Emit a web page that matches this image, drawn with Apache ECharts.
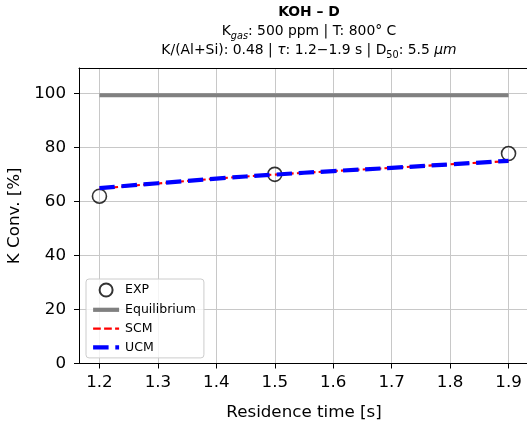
<!DOCTYPE html>
<html>
<head>
<meta charset="utf-8">
<script src="https://cdn.jsdelivr.net/npm/echarts@6/dist/echarts.min.js"></script>
<style>
  html, body { margin: 0; padding: 0; background: #fff; }
  #chart_koh { width: 527px; height: 423px; }
</style>
</head>
<body>
<div id="chart_koh"></div>
<script>
// experimental points
const expTimes = [1.2, 1.5, 1.9]
const expValues = [62.0, 70.1, 77.8]
// equilibrium conversion
const eqTimes = [1.2, 1.9]
const eqValues = [99.4, 99.4]
// model curves
const modelTimes = [1.2, 1.3, 1.4, 1.5, 1.6, 1.7, 1.8, 1.9]
const scmValues = [64.8, 66.7, 68.5, 70.0, 71.3, 72.5, 73.8, 75.0]
const ucmValues = [65.0, 66.8, 68.5, 70.0, 71.3, 72.5, 73.8, 75.1]

const pairs = (xs, ys) => xs.map((x, i) => [x, ys[i]])
const FONT = 'DejaVu Sans'
const GRID_COLOR = '#c8c8c8'
const X_MIN = 1.165
const X_MAX = 1.935

const myChart = echarts.init(document.getElementById('chart_koh'))
const option = {
  animation: false,
  textStyle: { fontFamily: FONT },
  title: {
    left: 304,
    top: -2,
    textAlign: 'center',
    text: '{b|KOH – D}\n{n|K}{s|gas}{n|: 500 ppm | T: 800° C}\n{n|K/(Al+Si): 0.48 | }{i|τ}{n|: 1.2−1.9 s | D}{r|50}{n|: 5.5 }{i|μm}',
    textStyle: {
      fontWeight: 'normal',
      rich: {
        b: { fontFamily: FONT, fontSize: 13.9, fontWeight: 'bold', color: '#000', lineHeight: 19 },
        n: { fontFamily: FONT, fontSize: 13.9, fontWeight: 'normal', color: '#000', lineHeight: 19 },
        i: { fontFamily: FONT, fontSize: 13.9, fontWeight: 'normal', fontStyle: 'italic', color: '#000', lineHeight: 19 },
        s: { fontFamily: FONT, fontSize: 9.7, fontWeight: 'normal', fontStyle: 'italic', color: '#000', lineHeight: 19, verticalAlign: 'bottom' },
        r: { fontFamily: FONT, fontSize: 9.7, fontWeight: 'normal', color: '#000', lineHeight: 19, verticalAlign: 'bottom' }
      }
    }
  },
  legend: {
    orient: 'vertical',
    left: 86,
    top: 279,
    padding: [3.5, 8, 4, 5],
    itemGap: 5.8,
    itemWidth: 26,
    itemHeight: 13,
    borderColor: '#cccccc',
    borderWidth: 1,
    borderRadius: 3,
    backgroundColor: 'rgba(255,255,255,0.8)',
    textStyle: { fontFamily: FONT, fontSize: 12.5, color: '#000', padding: [0, 0, 0, 1] },
    data: [
      { name: 'EXP' },
      { name: 'Equilibrium', itemStyle: { opacity: 0 }, lineStyle: { width: 4.2 } },
      { name: 'SCM', itemStyle: { opacity: 0 }, lineStyle: { width: 2.1, type: [7.7, 3.3] } },
      { name: 'UCM', itemStyle: { opacity: 0 }, lineStyle: { width: 4.2, type: [15.5, 6.7] } }
    ]
  },
  grid: {
    left: 79,
    top: 68,
    width: 450,
    bottom: 59.5,
    show: false,
    outerBoundsMode: 'none',
    containLabel: false
  },
  xAxis: [
    {
      type: 'value',
      min: X_MIN,
      max: X_MAX,
      splitNumber: 8,
      name: 'Residence time [s]',
      nameLocation: 'middle',
      nameGap: 41,
      nameTextStyle: { fontFamily: FONT, fontSize: 16.7, color: '#000' },
      axisLine: { lineStyle: { color: '#000', width: 1 } },
      axisTick: { show: true, length: 5, lineStyle: { color: '#000' } },
      axisLabel: {
        fontFamily: FONT,
        fontSize: 16.7,
        color: '#000',
        margin: 11,
        showMinLabel: false,
        showMaxLabel: false,
        formatter: v => v.toFixed(1)
      },
      splitLine: { show: true, lineStyle: { color: GRID_COLOR, width: 1 } }
    },
    {
      // top spine
      type: 'value',
      position: 'top',
      min: X_MIN,
      max: X_MAX,
      axisLine: { show: true, lineStyle: { color: '#000', width: 1 } },
      axisTick: { show: false },
      axisLabel: { show: false },
      splitLine: { show: false }
    }
  ],
  yAxis: {
    type: 'value',
    min: 0,
    max: 109.5,
    interval: 20,
    name: 'K Conv. [%]',
    nameLocation: 'middle',
    nameGap: 56,
    nameTextStyle: { fontFamily: FONT, fontSize: 16.7, color: '#000' },
    axisLine: { show: true, lineStyle: { color: '#000', width: 1 } },
    axisTick: { show: true, length: 5, lineStyle: { color: '#000' } },
    axisLabel: {
      fontFamily: FONT,
      fontSize: 16.7,
      color: '#000',
      margin: 13,
      showMaxLabel: false
    },
    splitLine: { show: true, lineStyle: { color: GRID_COLOR, width: 1 } }
  },
  series: [
    {
      name: 'Equilibrium',
      type: 'line',
      symbol: 'none',
      data: pairs(eqTimes, eqValues),
      lineStyle: { color: '#808080', width: 4.2 },
      itemStyle: { color: '#808080' }
    },
    {
      name: 'SCM',
      type: 'line',
      symbol: 'none',
      smooth: true,
      data: pairs(modelTimes, scmValues),
      lineStyle: { color: '#ff0000', width: 2.1, type: [7.7, 3.3] },
      itemStyle: { color: '#ff0000' }
    },
    {
      name: 'UCM',
      type: 'line',
      symbol: 'none',
      smooth: true,
      data: pairs(modelTimes, ucmValues),
      lineStyle: { color: '#0000ff', width: 4.2, type: [15.5, 6.7] },
      itemStyle: { color: '#0000ff' }
    },
    {
      name: 'EXP',
      type: 'scatter',
      symbol: 'circle',
      symbolSize: 14,
      data: pairs(expTimes, expValues),
      itemStyle: { color: 'rgba(0,0,0,0)', borderColor: '#000', borderWidth: 1.6 }
    }
  ]
}
myChart.setOption(option)
</script>
</body>
</html>
